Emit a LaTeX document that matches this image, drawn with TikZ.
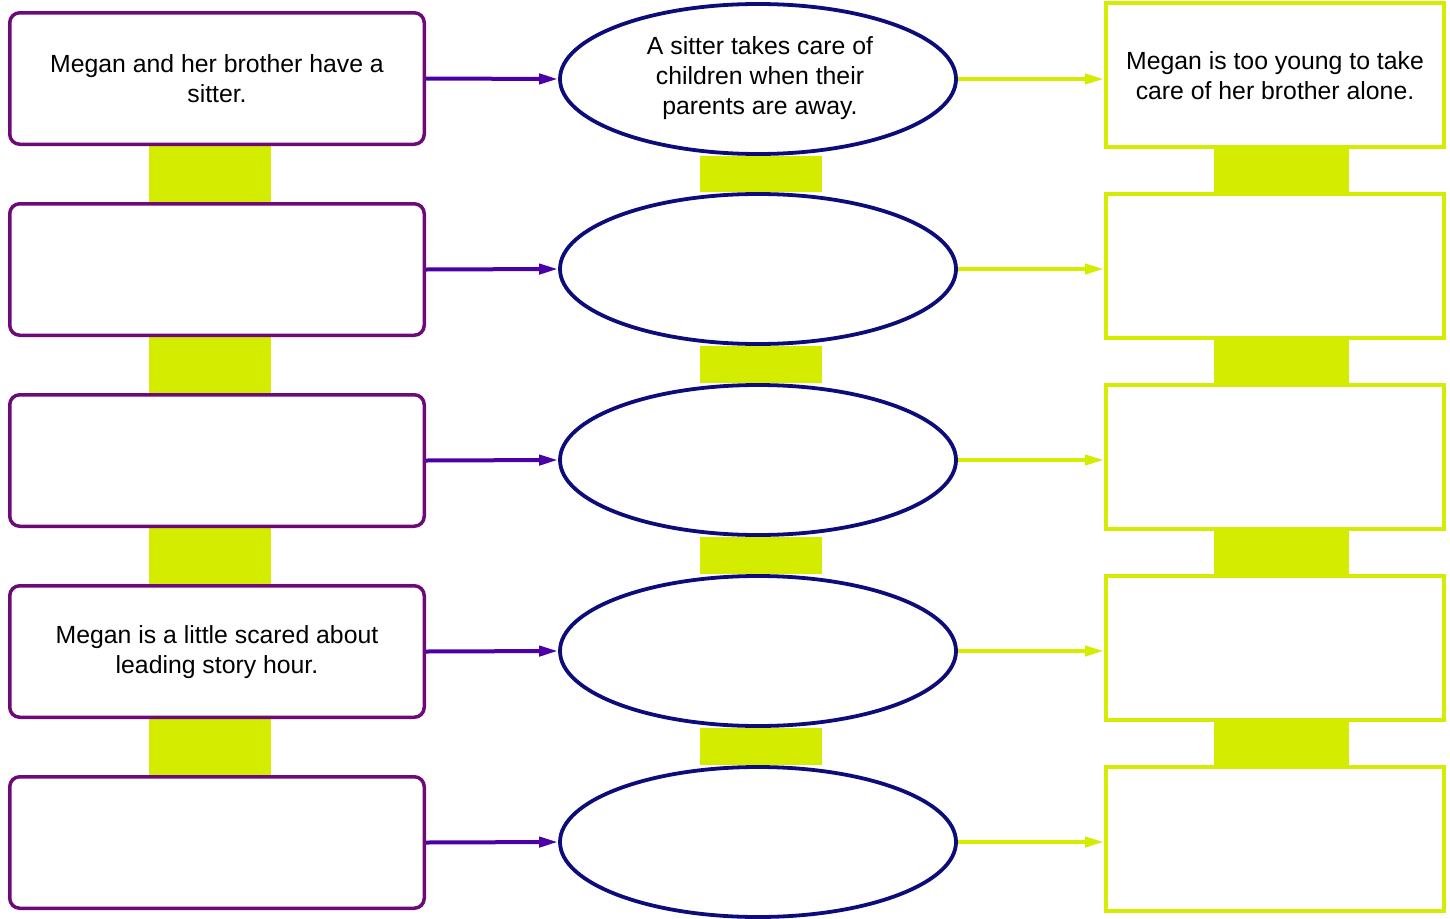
\documentclass[tikz,border=0pt]{standalone}
\usepackage{fontspec}
\setmainfont{Liberation Sans}
\usetikzlibrary{arrows.meta,backgrounds,shapes.geometric}
\definecolor{boxpurple}{HTML}{6E0A78}
\definecolor{arrowviolet}{HTML}{4A00A6}
\definecolor{ellnavy}{HTML}{0C0C7A}
\definecolor{lime}{HTML}{D4EC00}
\begin{document}
\begin{tikzpicture}[x=1pt,y=-1pt,
  txt/.style={font=\fontsize{24.8}{30}\selectfont,align=center},
  lbox/.style={draw=boxpurple,line width=3.5pt,rounded corners=10pt,minimum width=414.5pt,minimum height=131.5pt,inner sep=0pt},
  ellbox/.style={draw=ellnavy,line width=3.8pt,ellipse,minimum width=396pt,minimum height=150pt,inner sep=0pt},
  rbox/.style={draw=lime,line width=4pt,minimum width=338pt,minimum height=144pt,inner sep=0pt},
  larrow/.style={draw=arrowviolet,line width=4pt,-{Triangle[length=19pt,width=10pt]}},
  rarrow/.style={draw=lime,line width=4pt,-{Triangle[length=19pt,width=10pt]}},
  bar/.style={fill=lime,draw=none}]
\useasboundingbox (0,0) rectangle (1450,918);
\foreach \i/\ly/\ey/\ry in {1/78.5/79/75,2/269.5/269/265.5,3/460.5/460/456.5,4/651.5/651/647.5,5/842.5/842/838.5}{
  \node[lbox] (L\i) at (217,\ly) {};
  \node[ellbox] (E\i) at (758,\ey) {};
  \node[rbox] (R\i) at (1275,\ry) {};
}
\node[txt] (t1) at (217,79) {Megan and her brother have a\\sitter.};
\node[txt] (t2) at (217,652) {Megan is a little scared about\\leading story hour.};
\node[txt] (t3) at (760,78) {A sitter takes care of\\children when their\\parents are away.};
\node[txt] (t4) at (1275,76) {Megan is too young to take\\care of her brother alone.};
\begin{scope}[on background layer]
\foreach \i/\j in {1/2,2/3,3/4,4/5}{
  \fill[bar] (149,0 |- L\i.south) rectangle (271,0 |- L\j.north);
  \fill[bar] (700,0 |- E\i.south) rectangle (822,0 |- E\j.north);
  \fill[bar] (1214,0 |- R\i.south) rectangle (1349,0 |- R\j.north);
}
\end{scope}
\foreach \i in {1,...,5}{
  \draw[larrow] (L\i.east) -- (E\i.west);
  \draw[rarrow] (E\i.east) -- (E\i.east -| R\i.west);
}
\end{tikzpicture}
\end{document}
